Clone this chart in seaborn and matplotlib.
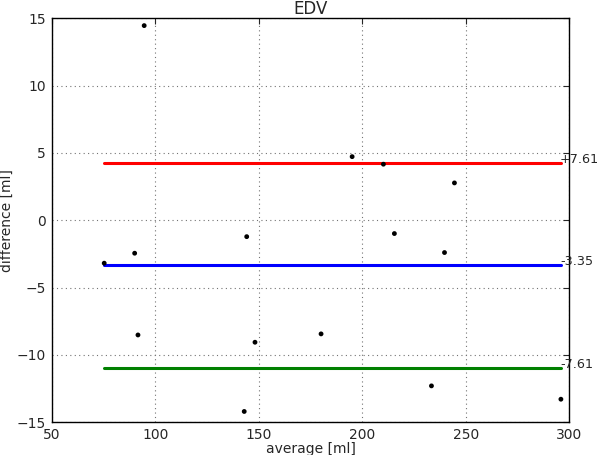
import matplotlib
matplotlib.use('Agg')
import matplotlib.pyplot as plt
import seaborn as sns
import pandas as pd

# средние значения и разности двух измерений (мл)
average = [94.7, 195.1, 210.2, 244.5, 75.4, 90.1, 144.2, 91.7, 148.2, 143.0,
           180.1, 215.5, 239.7, 233.4, 295.9]
difference = [14.45, 4.72, 4.16, 2.77, -3.19, -2.45, -1.22, -8.52, -9.06, -14.2,
              -8.44, -0.99, -2.40, -12.3, -13.29]
mean_diff = -3.35
limit = 7.61
x_ticks = [50, 100, 150, 200, 250, 300]
y_ticks = [-15, -10, -5, 0, 5, 10, 15]

df = pd.DataFrame({'average': average, 'difference': difference})

sns.set_style('white')
plt.rcParams['font.family'] = ['DejaVu Sans']
plt.rcParams['font.size'] = 10

fig = plt.figure(figsize=(6, 4.55), dpi=100)
ax = fig.add_axes([0.086, 0.072, 0.863, 0.888])

x_min, x_max = df['average'].min(), df['average'].max()
levels = [(mean_diff + limit, 'red', '+%.2f' % limit),
          (mean_diff, 'blue', '%.2f' % mean_diff),
          (mean_diff - limit, 'green', '-%.2f' % limit)]
for y, color, label in levels:
    line_df = pd.DataFrame({'x': [x_min, x_max], 'y': [y, y]})
    sns.lineplot(data=line_df, x='x', y='y', color=color, linewidth=2.2, ax=ax)
    ax.text(x_max - 0.4, y, label, ha='left', va='baseline', fontsize=9.2)

sns.scatterplot(data=df, x='average', y='difference', color='black', s=12,
                edgecolor='none', ax=ax, zorder=5)

ax.set_xlim(50, 300)
ax.set_ylim(-15, 15)
ax.set_xticks(x_ticks)
ax.set_yticks(y_ticks)
ax.grid(True, color='0.45', linestyle=(0, (1, 3)), linewidth=0.8)
ax.tick_params(direction='in', top=True, right=True, length=4, width=0.8, pad=4)
for s in ax.spines.values():
    s.set_color('black')
    s.set_linewidth(1)
ax.set_title('EDV', fontsize=12, pad=3)
ax.set_xlabel('average [ml]', labelpad=0)
ax.set_ylabel('difference [ml]', labelpad=2)

plt.savefig('out.png', dpi=100)
